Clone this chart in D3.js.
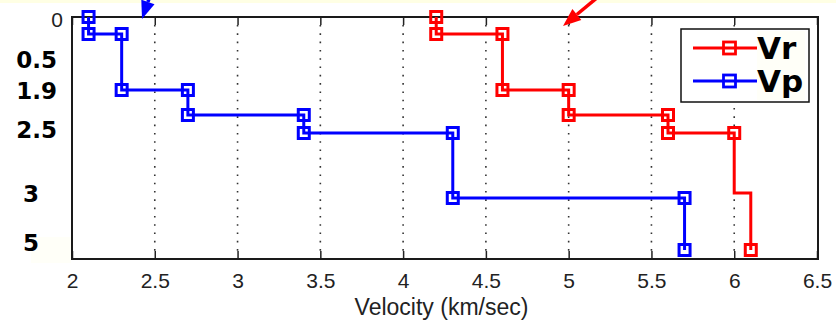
<!DOCTYPE html>
<html lang="en">
<head>
    <meta charset="UTF-8">
    <title>Velocity profile</title>
    <script src="https://d3js.org/d3.v7.min.js"></script>
    <style>
        body {
            margin: 0;
            padding: 0;
            background-color: #ffffff;
            overflow: hidden;
        }
        svg { display: block; }
        .tick-label {
            font-family: 'Liberation Sans', Arial, sans-serif;
            font-size: 21px;
            fill: #222;
        }
        .depth-label {
            font-family: 'DejaVu Sans', Verdana, sans-serif;
            font-weight: bold;
            font-size: 23px;
            fill: #000;
        }
        .grid line {
            stroke: #333;
            stroke-width: 1.6;
            stroke-dasharray: 1.6 6.7;
        }
        .legend-text {
            font-family: 'DejaVu Sans', Verdana, sans-serif;
            font-weight: bold;
            font-size: 31px;
            fill: #000;
        }
    </style>
</head>
<body>
    <svg id="chart" width="836" height="326"></svg>

    <script>
        // --- data ---
        // x ticks (km/sec)
        const xTicks = [2, 2.5, 3, 3.5, 4, 4.5, 5, 5.5, 6, 6.5];

        // Vp step profile (velocity, depth in plot units)
        const vpVel   = [2.1, 2.1, 2.3, 2.3, 2.7, 2.7, 3.4, 3.4, 4.3, 4.3, 5.7, 5.7];
        const vpDepth = [0, 0.85, 0.85, 3.65, 3.65, 4.9, 4.9, 5.8, 5.8, 9.05, 9.05, 11.65];
        const vpMarked = [1, 1, 1, 1, 1, 1, 1, 1, 1, 1, 1, 1];

        // Vr step profile
        const vrVel   = [4.2, 4.2, 4.6, 4.6, 5.0, 5.0, 5.6, 5.6, 6.0, 6.0, 6.1, 6.1];
        const vrDepth = [0, 0.85, 0.85, 3.65, 3.65, 4.9, 4.9, 5.8, 5.8, 8.8, 8.8, 11.65];
        const vrMarked = [1, 1, 1, 1, 1, 1, 1, 1, 1, 0, 0, 1];

        // bold depth labels pasted on the left side
        const depthLabels = ["0.5", "1.9", "2.5", "3", "5"];
        const depthLabelPos = [2.15, 3.7, 5.65, 8.85, 11.3];

        const legendNames = ["Vr", "Vp"];
        const colors = { Vr: "#ff0000", Vp: "#0000ff" };

        // --- layout ---
        const svg = d3.select("#chart");
        const plotLeft = 72, plotRight = 817, plotTop = 17, plotBottom = 259;

        const x = d3.scaleLinear().domain([2, 6.5]).range([plotLeft, plotRight]);
        const y = d3.scaleLinear().domain([0, 12.1]).range([plotTop, plotBottom]);

        // faint yellow strip at the very top (screenshot edge)
        svg.append("rect")
            .attr("x", 0).attr("y", 0).attr("width", 836).attr("height", 3)
            .attr("fill", "#ffffe4");

        // cream patch behind the "5" label
        svg.append("rect")
            .attr("x", 31).attr("y", 237).attr("width", 40).attr("height", 26)
            .attr("fill", "#fffff8");

        // --- grid (dotted verticals) ---
        svg.append("g")
            .attr("class", "grid")
            .selectAll("line")
            .data(xTicks.filter(d => d > 2 && d < 6.5))
            .join("line")
            .attr("x1", d => x(d)).attr("x2", d => x(d))
            .attr("y1", plotTop + 8).attr("y2", plotBottom - 8);

        // --- axes ---
        const xAxisBottom = d3.axisBottom(x)
            .tickValues(xTicks)
            .tickSizeInner(-8)
            .tickSizeOuter(0)
            .tickPadding(14)
            .tickFormat(d3.format("~g"));

        const gx = svg.append("g")
            .attr("transform", `translate(0,${plotBottom})`)
            .call(xAxisBottom);
        gx.select(".domain").remove();
        gx.selectAll(".tick line").attr("stroke", "#222").attr("stroke-width", 1.5);
        gx.selectAll(".tick text").attr("class", "tick-label").attr("font-size", null).attr("font-family", null).attr("fill", null);

        const xAxisTop = d3.axisTop(x)
            .tickValues(xTicks)
            .tickSizeInner(-8)
            .tickSizeOuter(0)
            .tickFormat("");
        const gxt = svg.append("g")
            .attr("transform", `translate(0,${plotTop})`)
            .call(xAxisTop);
        gxt.select(".domain").remove();
        gxt.selectAll(".tick line").attr("stroke", "#222").attr("stroke-width", 1.5);

        // y axis: only the "0" label survives
        const yAxis = d3.axisLeft(y)
            .tickValues([0])
            .tickSize(0)
            .tickPadding(9)
            .tickFormat(d3.format("d"));
        const gy = svg.append("g")
            .attr("transform", `translate(${plotLeft},0)`)
            .call(yAxis);
        gy.select(".domain").remove();
        gy.selectAll(".tick text").attr("class", "tick-label").attr("font-size", null).attr("font-family", null).attr("fill", null)
            .attr("dy", "0.45em");

        // frame
        svg.append("rect")
            .attr("x", plotLeft).attr("y", plotTop)
            .attr("width", plotRight - plotLeft + 1).attr("height", plotBottom - plotTop)
            .attr("fill", "none")
            .attr("stroke", "#1a1a1a")
            .attr("stroke-width", 2);

        // x label
        svg.append("text")
            .attr("class", "tick-label")
            .attr("x", (plotLeft + plotRight) / 2 - 3)
            .attr("y", 315)
            .attr("text-anchor", "middle")
            .style("font-size", "23px")
            .text("Velocity (km/sec)");

        // --- series ---
        function drawSeries(name, vel, depth, marked) {
            const pts = vel.map((v, i) => ({ v: v, d: depth[i], m: marked[i] }));
            const line = d3.line().x(p => x(p.v)).y(p => y(p.d));
            const g = svg.append("g");
            g.append("path")
                .datum(pts)
                .attr("d", line)
                .attr("fill", "none")
                .attr("stroke", colors[name])
                .attr("stroke-width", 3);
            g.selectAll("rect")
                .data(pts.filter(p => p.m))
                .join("rect")
                .attr("x", p => x(p.v) - 5.5)
                .attr("y", p => y(p.d) - 5.5)
                .attr("width", 11).attr("height", 11)
                .attr("fill", "none")
                .attr("stroke", colors[name])
                .attr("stroke-width", 3);
        }
        drawSeries("Vr", vrVel, vrDepth, vrMarked);
        drawSeries("Vp", vpVel, vpDepth, vpMarked);

        // --- bold depth labels ---
        svg.append("g")
            .selectAll("text")
            .data(depthLabels)
            .join("text")
            .attr("class", "depth-label")
            .attr("x", d => d.length > 1 ? 57 : 31)
            .attr("y", (d, i) => y(depthLabelPos[i]))
            .attr("dy", "0.36em")
            .attr("text-anchor", d => d.length > 1 ? "end" : "middle")
            .text(d => d);

        // --- legend ---
        const legend = svg.append("g").attr("transform", "translate(681,29)");
        legend.append("rect")
            .attr("width", 128).attr("height", 73)
            .attr("fill", "#ffffff")
            .attr("stroke", "#111")
            .attr("stroke-width", 1.5);
        legend.append("rect")
            .attr("x", 76).attr("y", 2).attr("width", 48).attr("height", 69)
            .attr("fill", "#fffff8");
        const items = legend.selectAll("g.item")
            .data(legendNames)
            .join("g")
            .attr("class", "item")
            .attr("transform", (d, i) => `translate(0,${19 + i * 33})`);
        items.append("line")
            .attr("x1", 12).attr("x2", 76)
            .attr("stroke", d => colors[d])
            .attr("stroke-width", 3);
        items.append("rect")
            .attr("x", 42.5).attr("y", -6)
            .attr("width", 12).attr("height", 12)
            .attr("fill", "none")
            .attr("stroke", d => colors[d])
            .attr("stroke-width", 2.8);
        items.append("text")
            .attr("class", "legend-text")
            .attr("x", 76)
            .attr("y", 11)
            .text(d => d);

        // --- leftover annotation arrows at the top ---
        function arrow(x0, y0, x1, y1, color) {
            const ang = Math.atan2(y1 - y0, x1 - x0);
            const len = 18, half = 7;
            const bx = x1 - len * Math.cos(ang), by = y1 - len * Math.sin(ang);
            const nx = -Math.sin(ang), ny = Math.cos(ang);
            svg.append("line")
                .attr("x1", x0).attr("y1", y0).attr("x2", bx).attr("y2", by)
                .attr("stroke", color).attr("stroke-width", 3.5);
            svg.append("path")
                .attr("d", `M${x1},${y1}L${bx + nx * half},${by + ny * half}L${bx - nx * half},${by - ny * half}Z`)
                .attr("fill", color);
        }
        arrow(150, -4, 142, 19, "#0000ff");
        arrow(604, -8, 563, 26, "#ff0000");
    </script>
</body>
</html>
